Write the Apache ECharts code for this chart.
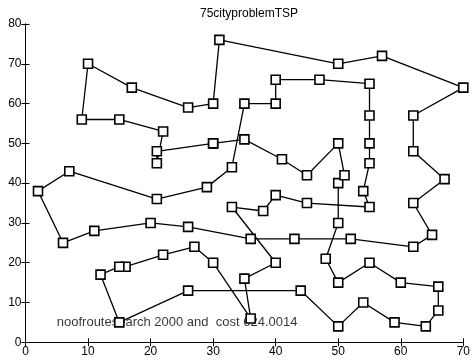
<!DOCTYPE html>
<html>
<head>
<meta charset="utf-8">
<script src="https://cdn.jsdelivr.net/npm/echarts@6/dist/echarts.min.js"></script>
<style>
html,body{margin:0;padding:0;background:#fff;}
#chart{width:473px;height:360px;}
</style>
</head>
<body>
<div id="chart"></div>
<script>
// Tour order (closed loop)
var tourX = [30,21,21,22,15,9,10,17,26,30,31,50,57,70,62,62,67,62,65,62,52,43,36,26,20,11,6,2,7,21,29,33,35,40,40,47,55,55,55,55,54,55,45,40,38,33,40,35,36,30,27,22,16,15,12,15,26,44,50,54,59,64,66,66,60,55,50,48,50,50,51,50,45,41,35];
var tourY = [50,48,45,53,56,56,70,64,59,60,76,70,72,64,57,48,41,35,27,24,26,26,26,29,30,28,25,38,43,36,39,44,60,60,66,66,65,57,50,45,38,34,35,37,33,34,20,16,6,20,24,22,19,19,17,5,13,13,4,10,5,4,8,14,15,20,15,21,30,40,42,50,42,46,51];
var xTicks = [0,10,20,30,40,50,60,70];
var yTicks = [0,10,20,30,40,50,60,70,80];
var titleText = '75cityproblemTSP';
var noteText = 'noofroutesearch 2000 and  cost 624.0014';
var notePos = [5,5];

var pts = [];
for (var i = 0; i < tourX.length; i++) pts.push([tourX[i], tourY[i]]);
pts.push([tourX[0], tourY[0]]);

var font = 'Liberation Sans';
var chart = echarts.init(document.getElementById('chart'));
var axisLine = {show:true, lineStyle:{color:'#000', width:1}};
var axisTick = {show:true, inside:true, length:4, lineStyle:{color:'#000'}};
chart.setOption({
  animation:false,
  backgroundColor:'#fff',
  title:{text:titleText, left:244, textAlign:'center', top:3,
    textStyle:{fontFamily:font, fontSize:12, fontWeight:'normal', color:'#000'}},
  grid:{left:25.5, right:6, top:24, bottom:17.7, containLabel:false},
  xAxis:[
    {type:'value', min:xTicks[0], max:xTicks[xTicks.length-1], interval:10, position:'bottom',
     axisLine:axisLine, axisTick:axisTick, splitLine:{show:false},
     axisLabel:{fontFamily:font, fontSize:12, color:'#000', margin:3}},
    {type:'value', min:xTicks[0], max:xTicks[xTicks.length-1], interval:10, position:'top',
     axisLine:axisLine, axisTick:axisTick, splitLine:{show:false}, axisLabel:{show:false}}
  ],
  yAxis:[
    {type:'value', min:yTicks[0], max:yTicks[yTicks.length-1], interval:10, position:'left',
     axisLine:axisLine, axisTick:axisTick, splitLine:{show:false},
     axisLabel:{fontFamily:font, fontSize:12, color:'#000', margin:4}},
    {type:'value', min:yTicks[0], max:yTicks[yTicks.length-1], interval:10, position:'right',
     axisLine:axisLine, axisTick:axisTick, splitLine:{show:false}, axisLabel:{show:false}}
  ],
  series:[
    {type:'scatter', data:[notePos], symbolSize:0, silent:true, z:1,
     label:{show:true, position:[0,0], align:'left', verticalAlign:'middle',
       formatter:noteText, fontFamily:font, fontSize:13, color:'#000'}},
    {type:'line', data:pts, symbol:'rect', symbolSize:9, showAllSymbol:true,
     lineStyle:{color:'#000', width:1.3},
     itemStyle:{color:'#fff', borderColor:'#000', borderWidth:1.6},
     z:3}
  ]
});
</script>
</body>
</html>
